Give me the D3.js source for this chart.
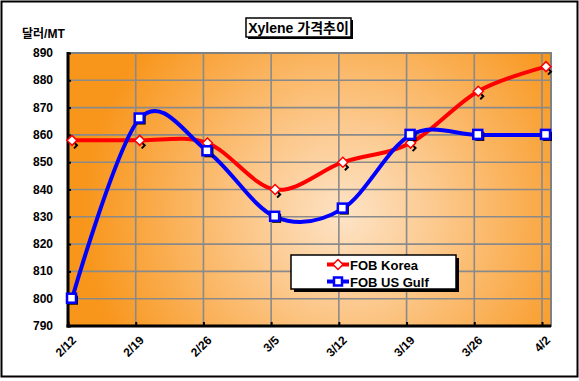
<!DOCTYPE html>
<html>
<head>
<meta charset="utf-8">
<script src="https://cdn.jsdelivr.net/npm/d3@7.9.0/dist/d3.min.js"></script>
<style>
  body { margin: 0; background: #fff; }
  svg { display: block; font-family: "Liberation Sans", Arial, "Noto Sans CJK KR", sans-serif; }
</style>
</head>
<body>
<svg width="579" height="381"></svg>
<script>
// data
const dates = ['2/12', '2/19', '2/26', '3/5', '3/12', '3/19', '3/26', '4/2'];
const korea = [858, 858, 857, 840, 850, 857, 876, 885];
const usGulf = [800, 866, 854, 830, 833, 860, 860, 860];
const yTicks = [790, 800, 810, 820, 830, 840, 850, 860, 870, 880, 890];

const svg = d3.select('svg');
const plotLeft = 68, plotRight = 551, plotTop = 53, plotBottom = 326;

let x = d3.scalePoint().domain(dates).range([plotLeft, 542]);
let y = d3.scaleLinear().domain([790, 890]).range([plotBottom, plotTop]);
const off = 4; // markers sit a little right of the gridlines

// outer frame
svg.append('rect').attr('x', 1.5).attr('y', 1.5).attr('width', 576).attr('height', 375)
  .attr('fill', '#fff').attr('stroke', '#000').attr('stroke-width', 2);

// plot background gradient
let defs = svg.append('defs');
let grad = defs.append('radialGradient').attr('id', 'bg')
  .attr('gradientUnits', 'userSpaceOnUse')
  .attr('cx', 345).attr('cy', 215).attr('r', 260);
grad.append('stop').attr('offset', '0%').attr('stop-color', '#fde3c6');
grad.append('stop').attr('offset', '35%').attr('stop-color', '#fcc98e');
grad.append('stop').attr('offset', '100%').attr('stop-color', '#f8961c');

svg.append('rect').attr('x', plotLeft).attr('y', plotTop)
  .attr('width', plotRight - plotLeft).attr('height', plotBottom - plotTop)
  .attr('fill', 'url(#bg)').attr('stroke', '#808080').attr('stroke-width', 2);

// gridlines
svg.append('g').selectAll('line').data(yTicks.slice(1, -1)).join('line')
  .attr('x1', plotLeft).attr('x2', plotRight)
  .attr('y1', d => y(d)).attr('y2', d => y(d))
  .attr('stroke', '#8a8a8a').attr('stroke-width', 1.6);
svg.append('g').selectAll('line').data(dates.slice(1)).join('line')
  .attr('x1', d => x(d)).attr('x2', d => x(d))
  .attr('y1', plotTop).attr('y2', plotBottom)
  .attr('stroke', '#8a8a8a').attr('stroke-width', 1.6);

// axes (ticks inside)
let yAxis = svg.append('g').attr('transform', `translate(${plotLeft},0)`)
  .call(d3.axisRight(y).tickValues(yTicks).tickSize(3).tickFormat(''));
yAxis.select('.domain').remove();
yAxis.selectAll('line').attr('stroke', '#000').attr('stroke-width', 2);
svg.append('line').attr('x1', plotLeft).attr('x2', plotLeft).attr('y1', plotTop - 1).attr('y2', plotBottom + 1.5)
  .attr('stroke', '#000').attr('stroke-width', 3);

let xAxis = svg.append('g').attr('transform', `translate(0,${plotBottom})`)
  .call(d3.axisTop(x).tickSize(4).tickFormat(''));
xAxis.select('.domain').remove();
xAxis.selectAll('line').attr('stroke', '#000').attr('stroke-width', 2);
svg.append('line').attr('x1', plotLeft - 1.5).attr('x2', plotRight).attr('y1', plotBottom).attr('y2', plotBottom)
  .attr('stroke', '#000').attr('stroke-width', 3);

// tick labels
svg.append('g').selectAll('text').data(yTicks).join('text')
  .attr('x', 53).attr('y', d => y(d) + 4)
  .attr('text-anchor', 'end').attr('font-size', 12).attr('font-weight', 'bold')
  .attr('fill', '#000').text(d => d);

svg.append('g').selectAll('text').data(dates).join('text')
  .attr('transform', d => `translate(${x(d) + 3},${plotBottom + 9}) rotate(-45)`)
  .attr('text-anchor', 'end').attr('dy', '0.7em')
  .attr('font-size', 12).attr('font-weight', 'bold').attr('fill', '#000').text(d => d);

svg.append('text').attr('x', 22).attr('y', 38).attr('font-size', 12).attr('font-weight', 'bold')
  .text('달러/MT');

// title box
svg.append('rect').attr('x', 248).attr('y', 20).attr('width', 105).attr('height', 19).attr('fill', '#000');
svg.append('rect').attr('x', 246).attr('y', 18).attr('width', 105).attr('height', 19)
  .attr('fill', '#fff').attr('stroke', '#000').attr('stroke-width', 1.5);
svg.append('text').attr('x', 298.5).attr('y', 33).attr('text-anchor', 'middle')
  .attr('font-size', 14).attr('font-weight', 'bold').text('Xylene 가격추이');

// series
let line = d3.line()
  .x((d, i) => x(dates[i]) + off)
  .y(d => y(d))
  .curve(d3.curveCatmullRom.alpha(0));

let series = [
  { name: 'FOB Korea', values: korea, color: '#ff0000', shape: 'diamond' },
  { name: 'FOB US Gulf', values: usGulf, color: '#0000ff', shape: 'square' }
];

series.forEach(s => {
  svg.append('path').attr('d', line(s.values))
    .attr('fill', 'none').attr('stroke', s.color).attr('stroke-width', 4);
});

function marker(g, s, cx, cy) {
  if (s.shape === 'diamond') {
    g.append('path').attr('d', `M${cx + 2},${cy + 2}l3,3l-3,3`).attr('fill', 'none')
      .attr('stroke', '#000').attr('stroke-width', 2);
    g.append('path').attr('d', `M${cx},${cy - 5}L${cx + 5},${cy}L${cx},${cy + 5}L${cx - 5},${cy}Z`)
      .attr('fill', '#fff').attr('stroke', s.color).attr('stroke-width', 1.5);
  } else {
    g.append('rect').attr('x', cx - 3).attr('y', cy - 3).attr('width', 9).attr('height', 9).attr('fill', '#000');
    g.append('rect').attr('x', cx - 5).attr('y', cy - 5).attr('width', 9).attr('height', 9)
      .attr('fill', '#fff').attr('stroke', s.color).attr('stroke-width', 2.5);
  }
}

series.forEach(s => {
  let g = svg.append('g');
  s.values.forEach((v, i) => marker(g, s, x(dates[i]) + off, y(v)));
});

// legend
svg.append('rect').attr('x', 294).attr('y', 258).attr('width', 165).attr('height', 34).attr('fill', '#000');
svg.append('rect').attr('x', 291).attr('y', 255).attr('width', 165).attr('height', 34)
  .attr('fill', '#fff').attr('stroke', '#000').attr('stroke-width', 1.5);
series.forEach((s, i) => {
  let ly = 264.5 + i * 17;
  let g = svg.append('g');
  g.append('line').attr('x1', 327).attr('x2', 349).attr('y1', ly).attr('y2', ly)
    .attr('stroke', s.color).attr('stroke-width', 4);
  if (s.shape === 'diamond') {
    g.append('path').attr('d', `M338,${ly - 5}L343,${ly}L338,${ly + 5}L333,${ly}Z`)
      .attr('fill', '#fff').attr('stroke', s.color).attr('stroke-width', 1.5);
  } else {
    g.append('rect').attr('x', 334).attr('y', ly - 4).attr('width', 8).attr('height', 8)
      .attr('fill', '#fff').attr('stroke', s.color).attr('stroke-width', 2.5);
  }
  g.append('text').attr('x', 350).attr('y', ly + 5).attr('font-size', 13).attr('font-weight', 'bold')
    .text(s.name);
});
</script>
</body>
</html>
